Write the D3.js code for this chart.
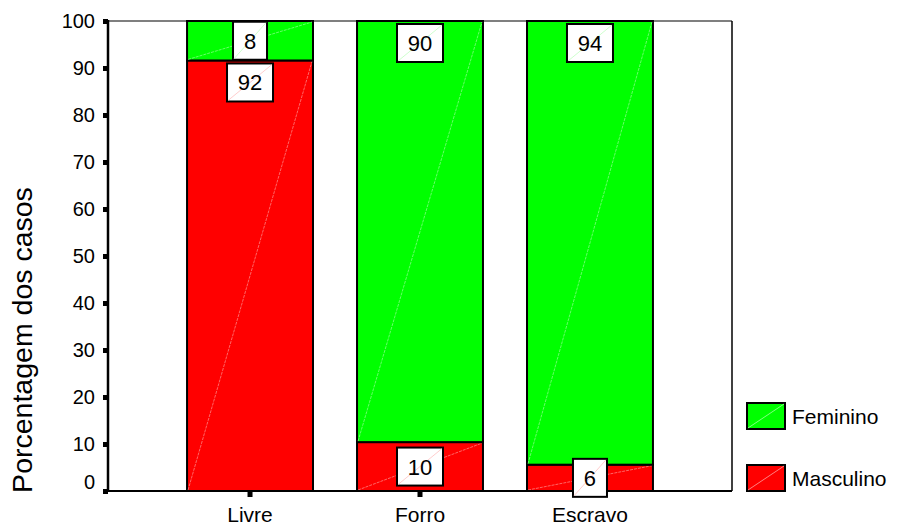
<!DOCTYPE html>
<html>
<head>
<meta charset="utf-8">
<script src="https://cdn.jsdelivr.net/npm/d3@7"></script>
<style>
  html, body { margin: 0; padding: 0; background: #fff; }
  svg { display: block; font-family: Arial, "Liberation Sans", sans-serif; }
</style>
</head>
<body>
<svg id="chart" width="897" height="528"></svg>
<script>
const categories = ["Livre", "Forro", "Escravo"];
const masculino = [91.6, 10.4, 5.6];
const feminino = [8.4, 89.6, 94.4];
const yTicks = [0, 10, 20, 30, 40, 50, 60, 70, 80, 90, 100];
const legendItems = ["Feminino", "Masculino"];
const yTitle = "Porcentagem dos casos";

(function () {
const svg = d3.select("#chart");
const pLeft = 108, pRight = 732, pTop = 21, pBottom = 491;

const x = d3.scaleBand().domain(categories).range([pLeft, pRight])
  .paddingInner(0.259).paddingOuter(0.465);
const y = d3.scaleLinear().domain([0, 100]).range([pBottom, pTop]);
const color = d3.scaleOrdinal().domain(legendItems).range(["#00ff00", "#ff0000"]);
const lightColor = d3.scaleOrdinal().domain(legendItems).range(["#b8ffb8", "#ffb8b8"]);

// top and right frame lines
svg.append("line").attr("x1", pLeft).attr("x2", pRight).attr("y1", pTop).attr("y2", pTop)
  .attr("stroke", "#555").attr("stroke-width", 1.5);
svg.append("line").attr("x1", pRight).attr("x2", pRight).attr("y1", pTop).attr("y2", pBottom)
  .attr("stroke", "#000").attr("stroke-width", 1.5);

// stacked data
const stacked = categories.map((c, i) => [
  { cat: c, series: "Masculino", y0: 0, y1: masculino[i], v: masculino[i] },
  { cat: c, series: "Feminino", y0: masculino[i], y1: masculino[i] + feminino[i], v: feminino[i] }
]).flat();

const segs = svg.append("g").selectAll("g").data(stacked).join("g");
segs.append("rect")
  .attr("x", d => x(d.cat))
  .attr("width", x.bandwidth())
  .attr("y", d => y(d.y1))
  .attr("height", d => y(d.y0) - y(d.y1))
  .attr("fill", d => color(d.series))
  .attr("stroke", "#000").attr("stroke-width", 2);
segs.append("line")
  .attr("x1", d => x(d.cat) + 1).attr("y1", d => y(d.y0) - 1)
  .attr("x2", d => x(d.cat) + x.bandwidth() - 1).attr("y2", d => y(d.y1) + 1)
  .attr("stroke", d => lightColor(d.series)).attr("stroke-width", 0.7)
  .attr("stroke-opacity", 0.8)
  .attr("stroke-dasharray", "3,1");

// axes
const yAxis = svg.append("g").attr("transform", `translate(${pLeft},0)`)
  .call(d3.axisLeft(y).tickValues(yTicks).tickSize(5).tickPadding(8));
yAxis.select(".domain").remove();
yAxis.selectAll(".tick line").attr("stroke", "#000").attr("stroke-width", 5);
yAxis.selectAll(".tick text").attr("fill", "#000").attr("font-size", 20)
  .attr("font-family", "Arial, 'Liberation Sans', sans-serif")
  .attr("dy", d => d === 0 ? "-0.12em" : "0.34em");

const xAxis = svg.append("g").attr("transform", `translate(0,${pBottom})`)
  .call(d3.axisBottom(x).tickSize(6).tickPadding(10));
xAxis.select(".domain").remove();
xAxis.selectAll(".tick line").attr("stroke", "#000").attr("stroke-width", 5);
xAxis.selectAll(".tick text").attr("fill", "#000").attr("font-size", 21)
  .attr("font-family", "Arial, 'Liberation Sans', sans-serif");

svg.append("line").attr("x1", pLeft).attr("x2", pLeft).attr("y1", pTop - 1).attr("y2", pBottom + 1)
  .attr("stroke", "#000").attr("stroke-width", 2.5);
svg.append("line").attr("x1", pLeft).attr("x2", pRight).attr("y1", pBottom).attr("y2", pBottom)
  .attr("stroke", "#000").attr("stroke-width", 2);

// value label boxes
const boxH = 38;
const boxW = d => String(Math.round(d.v)).length > 1 ? 46 : 34;
const labels = svg.append("g").selectAll("g").data(stacked).join("g")
  .attr("transform", d => {
    const segTop = y(d.y1), segBot = y(d.y0);
    const h = segBot - segTop;
    const by = h < 60 ? (segTop + segBot) / 2 - boxH / 2 : segTop + 3;
    const bx = x(d.cat) + x.bandwidth() / 2 - boxW(d) / 2;
    return `translate(${bx},${by})`;
  });
labels.append("rect")
  .attr("width", boxW)
  .attr("height", boxH)
  .attr("fill", "#fff").attr("stroke", "#000").attr("stroke-width", 2);
labels.append("line")
  .attr("x1", 1).attr("y1", boxH - 1)
  .attr("x2", d => boxW(d) - 1).attr("y2", 1)
  .attr("stroke", d => lightColor(d.series)).attr("stroke-width", 0.7);
labels.append("text")
  .attr("x", d => boxW(d) / 2)
  .attr("y", boxH / 2 + 8)
  .attr("text-anchor", "middle").attr("font-size", 22).attr("fill", "#000")
  .text(d => Math.round(d.v));

// y title
svg.append("text")
  .attr("transform", "translate(32,340) rotate(-90)")
  .attr("text-anchor", "middle").attr("font-size", 28.5).attr("fill", "#000")
  .text(yTitle);

// legend
const legendY = d3.scalePoint().domain(legendItems).range([416, 478]);
const lg = svg.append("g").selectAll("g").data(legendItems).join("g")
  .attr("transform", d => `translate(747,${legendY(d) - 13})`);
lg.append("rect").attr("width", 38).attr("height", 26)
  .attr("fill", d => color(d)).attr("stroke", "#000").attr("stroke-width", 2);
lg.append("line").attr("x1", 1).attr("y1", 25).attr("x2", 37).attr("y2", 1)
  .attr("stroke", d => lightColor(d)).attr("stroke-width", 0.7);
lg.append("text").attr("x", 45).attr("y", 21)
  .attr("font-size", 21).attr("fill", "#000").text(d => d);
})();
</script>
</body>
</html>
